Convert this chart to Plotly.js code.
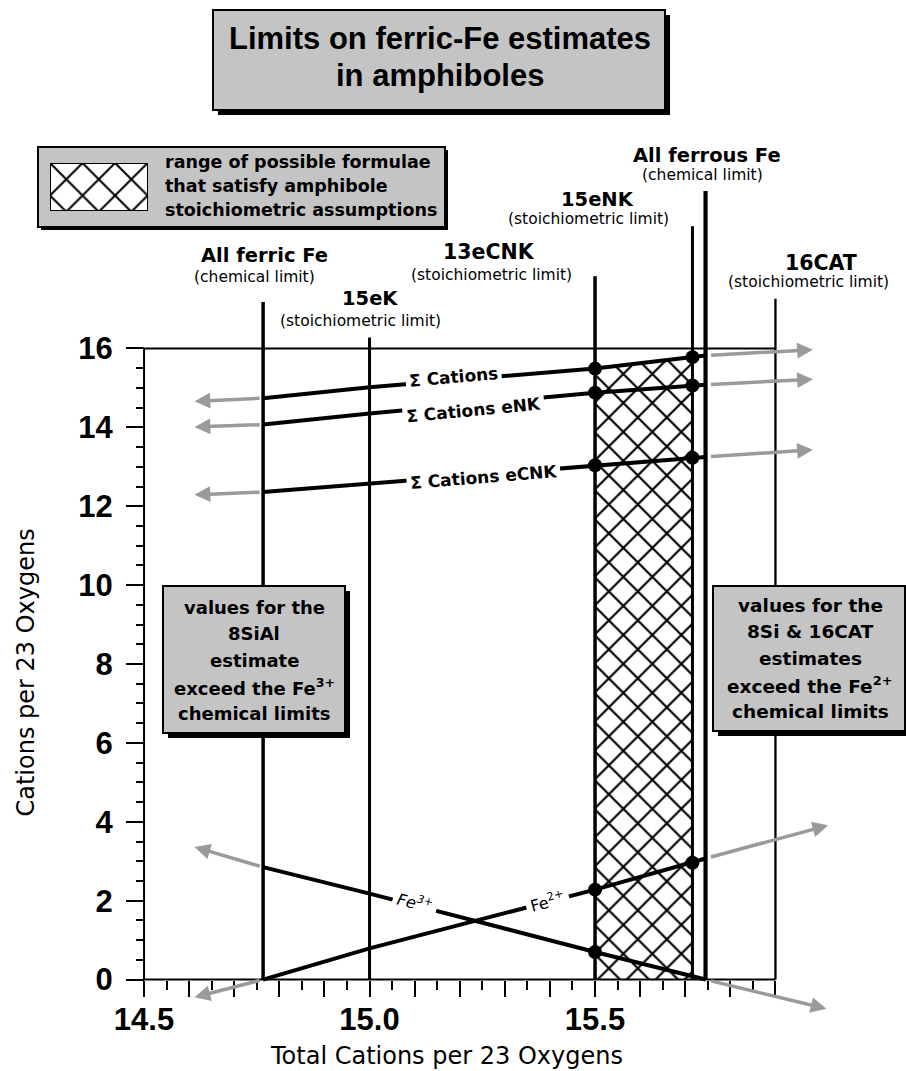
<!DOCTYPE html>
<html><head><meta charset="utf-8">
<script src="https://cdn.plot.ly/plotly-3.0.1.min.js"></script>
<style>html,body{margin:0;padding:0;background:#fff}</style>
</head><body><div id="chart" style="width:906px;height:1071px"></div>
<script>
// ================= DATA =================
// Vertical limit lines (x = total cations per 23 O)
const limitNames = ['All ferric Fe', '15eK', '13eCNK', '15eNK', 'All ferrous Fe', '16CAT'];
const limitSubs  = ['(chemical limit)', '(stoichiometric limit)', '(stoichiometric limit)',
                    '(stoichiometric limit)', '(chemical limit)', '(stoichiometric limit)'];
const limitX     = [14.764, 15.0, 15.5, 15.716, 15.745, 15.9];
const limitTop   = [17.18, 16.28, 17.83, 19.1, 19.99, 17.26];

// Curves read at the limit lines (ferric, 15eK, 13eCNK, 15eNK, ferrous)
const curveX         = [14.764, 15.0, 15.5, 15.716, 15.745];
const sumCations     = [14.74, 15.02, 15.49, 15.78, 15.82];
const sumCationsENK  = [14.07, 14.35, 14.88, 15.06, 15.08];
const sumCationsECNK = [12.36, 12.57, 13.04, 13.23, 13.25];
const fe2            = [0.00, 0.79, 2.28, 2.96, 3.07];
const fe3            = [2.85, 2.18, 0.70, 0.08, 0.00];
const curveLabels    = ['&#931; Cations', '&#931; Cations eNK', '&#931; Cations eCNK', 'Fe<sup>2+</sup>', 'Fe<sup>3+</sup>'];
const dotIndex       = [[2, 3], [2, 3], [2, 3], [2, 3], [2]];

// Extrapolation arrows beyond the chemical limits (arrow heads)
const leftHeadX  = [14.612, 14.612, 14.612, 14.612, 14.612];
const leftHeadY  = [14.66, 14.01, 12.29, -0.45, 3.36];
const rightHeadX = [15.983, 15.983, 15.983, 16.017, 16.013];
const rightHeadY = [15.97, 15.22, 13.43, 3.91, -0.74];

// Axes
const xFrame = [14.5, 15.9];
const yFrame = [0, 16];
const xTickVals = [14.5, 14.6, 14.7, 14.8, 14.9, 15.0, 15.1, 15.2, 15.3, 15.4, 15.5, 15.6, 15.7, 15.8, 15.9];
const xTickText = ['14.5', '', '', '', '', '15.0', '', '', '', '', '15.5', '', '', '', ''];
const xMinorVals = [14.55, 14.65, 14.75, 14.85, 14.95, 15.05, 15.15, 15.25, 15.35, 15.45, 15.55, 15.65, 15.75, 15.85];
const yTickVals = [0, 2, 4, 6, 8, 10, 12, 14, 16];
const yTickText = ['0', '2', '4', '6', '8', '10', '12', '14', '16'];
const yMinorVals = [0.5, 1, 1.5, 2.5, 3, 3.5, 4.5, 5, 5.5, 6.5, 7, 7.5, 8.5, 9, 9.5, 10.5, 11, 11.5,
                    12.5, 13, 13.5, 14.5, 15, 15.5];
const xTitle = 'Total Cations per 23 Oxygens';
const yTitle = 'Cations per 23 Oxygens';

// Text
const titleLines  = ['Limits on ferric-Fe estimates', 'in amphiboles'];
const legendLines = ['range of possible formulae', 'that satisfy amphibole', 'stoichiometric assumptions'];
const leftBoxLines  = ['values for the', '8SiAl', 'estimate', 'exceed the Fe<sup>3+</sup>', 'chemical limits'];
const rightBoxLines = ['values for the', '8Si &amp; 16CAT', 'estimates', 'exceed the Fe<sup>2+</sup>', 'chemical limits'];

// ================= LAYOUT / STYLE =================
const W = 906, H = 1071;
const fx = px => px / W;
const fy = py => 1 - py / H;
const xRange = [14.47, 16.05];
const yRange = [-1, 20.5];
const xDomain = [fx(130.5), fx(843.1)];
const yDomain = [fy(1019), fy(171)];
const xAxisPos = yDomain[0] + (yFrame[0] - yRange[0]) / (yRange[1] - yRange[0]) * (yDomain[1] - yDomain[0]);
const yAxisPos = xDomain[0] + (xFrame[0] - xRange[0]) / (xRange[1] - xRange[0]) * (xDomain[1] - xDomain[0]);

const SANS = 'DejaVu Sans, Verdana, sans-serif';
const ARIAL = 'Liberation Sans, Arial, Helvetica, sans-serif';
const BOXGRAY = '#c4c4c4';
const ARROWGRAY = '#9a9a9a';
const limitWidths = [3.5, 3, 3.5, 3, 4.2, 2.3];
const limitLabelPx = [[264, 255], [370, 298], [489, 252], [597, 199], [707, 155], [821, 262.5]];
const limitSubPx   = [[254, 277.5], [360, 321], [491, 275], [588, 219], [702, 175], [808, 282]];
const limitLabelSize = [19.5, 19.5, 20.5, 19.5, 19.5, 20.5];
const curveLabelX = [15.187, 15.231, 15.253, 15.395, 15.1];
const curveLabelY = [15.28, 14.45, 12.74, 1.98, 1.95];
const curveLabelAngle = [-5, -5.5, -4.6, -15, 14];

const traces = [];
// Hatched region: 13eCNK .. 15eNK, below sum of cations
traces.push({
  type: 'scatter', mode: 'lines',
  x: [curveX[2], curveX[2], curveX[3], curveX[3]],
  y: [yFrame[0], sumCations[2], sumCations[3], yFrame[0]],
  fill: 'toself', fillcolor: 'white',
  fillpattern: {shape: 'x', size: 20.5, solidity: 0.2, fgcolor: 'black', bgcolor: 'white'},
  line: {width: 0}, hoverinfo: 'skip', showlegend: false
});
// Vertical limit lines
limitX.forEach((x, i) => traces.push({
  type: 'scatter', mode: 'lines', x: [x, x], y: [yFrame[0], limitTop[i]],
  line: {color: 'black', width: limitWidths[i]}, hoverinfo: 'skip', showlegend: false, name: limitNames[i]
}));
// Curves
const curves = [sumCations, sumCationsENK, sumCationsECNK, fe2, fe3];
curves.forEach((c, i) => traces.push({
  type: 'scatter', mode: 'lines', x: curveX, y: c,
  line: {color: 'black', width: 4}, hoverinfo: 'skip', showlegend: false
}));
// Dots
curves.forEach((c, i) => traces.push({
  type: 'scatter', mode: 'markers',
  x: dotIndex[i].map(k => curveX[k]), y: dotIndex[i].map(k => c[k]),
  marker: {color: 'black', size: 14}, hoverinfo: 'skip', showlegend: false
}));
// Legend swatch (own unit axes)
traces.push({
  type: 'scatter', mode: 'lines', xaxis: 'x2', yaxis: 'y2',
  x: [0, 0, 1, 1, 0], y: [0, 1, 1, 0, 0], fill: 'toself', fillcolor: 'white',
  fillpattern: {shape: 'x', size: 23, solidity: 0.17, fgcolor: 'black', bgcolor: 'white'},
  line: {color: 'black', width: 2}, hoverinfo: 'skip', showlegend: false
});

const shapes = [];
// Plot frame (right side is the 16CAT line)
shapes.push({type: 'line', xref: 'x', yref: 'y', x0: xFrame[0], x1: xFrame[1], y0: yFrame[0], y1: yFrame[0], line: {color: 'black', width: 2}});
shapes.push({type: 'line', xref: 'x', yref: 'y', x0: xFrame[0], x1: xFrame[1], y0: yFrame[1], y1: yFrame[1], line: {color: 'black', width: 2}});
shapes.push({type: 'line', xref: 'x', yref: 'y', x0: xFrame[0], x1: xFrame[0], y0: yFrame[0], y1: yFrame[1], line: {color: 'black', width: 2}});

function box(x0, y0, x1, y1, sh, layer) {
  shapes.push({type: 'rect', xref: 'paper', yref: 'paper', x0: fx(x0 + sh), x1: fx(x1 + sh), y0: fy(y1 + sh), y1: fy(y0 + sh),
    fillcolor: 'black', line: {width: 0}, layer: layer});
  shapes.push({type: 'rect', xref: 'paper', yref: 'paper', x0: fx(x0), x1: fx(x1), y0: fy(y1), y1: fy(y0),
    fillcolor: BOXGRAY, line: {color: 'black', width: 2}, layer: layer});
}
box(213, 10, 665, 110, 5, 'below');
box(38, 147, 445, 227, 3, 'below');
box(163, 586, 345, 733, 5, 'above');
box(713, 586, 905, 731, 5, 'above');

const ann = [];
function txt(text, px, py, size, opts) {
  ann.push(Object.assign({
    xref: 'paper', yref: 'paper', x: fx(px), y: fy(py), text: text, showarrow: false,
    xanchor: 'center', yanchor: 'middle',
    font: {family: SANS, size: size, color: 'black'}
  }, opts || {}));
}
// Title
titleLines.forEach((t, i) => txt(t, 440, 39 + i * 37, 31, {font: {family: ARIAL, size: 31, weight: 'bold', color: 'black'}}));
// Legend text
legendLines.forEach((t, i) => txt(t, 163, 161.5 + i * 24.2, 17.5, {xanchor: 'left', font: {family: SANS, size: 17.5, weight: 'bold', color: 'black'}}));
// Box texts
leftBoxLines.forEach((t, i) => txt(t, 254, 607.5 + i * 26.4, 18, {font: {family: SANS, size: 18, weight: 'bold', color: 'black'}}));
rightBoxLines.forEach((t, i) => txt(t, 810, 605 + i * 26.7, 18.5, {font: {family: SANS, size: 18.5, weight: 'bold', color: 'black'}}));
// Limit labels
limitNames.forEach((n, i) => {
  txt(n, limitLabelPx[i][0], limitLabelPx[i][1], limitLabelSize[i], {font: {family: SANS, size: limitLabelSize[i], weight: 'bold', color: 'black'}});
  txt(limitSubs[i], limitSubPx[i][0], limitSubPx[i][1], 15.5);
});
// Axis titles
txt(xTitle, 446, 1056, 24);
txt(yTitle, 25, 672.5, 24, {textangle: -90});

// Curve labels (white background breaks the line)
curves.forEach((c, i) => {
  const isFe = i >= 3;
  ann.push({
    xref: 'x', yref: 'y', x: curveLabelX[i], y: curveLabelY[i], text: curveLabels[i], showarrow: false,
    textangle: curveLabelAngle[i], bgcolor: 'white', borderpad: isFe ? 4 : 3,
    font: {family: SANS, size: isFe ? 16 : 17, weight: isFe ? 'normal' : 'bold', style: i === 4 ? 'italic' : 'normal', color: 'black'}
  });
});
// Extrapolation arrows
curves.forEach((c, i) => {
  ann.push({xref: 'x', yref: 'y', axref: 'x', ayref: 'y', x: leftHeadX[i], y: leftHeadY[i],
    ax: curveX[0], ay: c[0], text: '', showarrow: true, arrowhead: 2, arrowsize: 0.9,
    arrowwidth: 3.5, arrowcolor: ARROWGRAY, standoff: 0, startstandoff: 2});
  ann.push({xref: 'x', yref: 'y', axref: 'x', ayref: 'y', x: rightHeadX[i], y: rightHeadY[i],
    ax: curveX[curveX.length - 1], ay: c[c.length - 1], text: '', showarrow: true, arrowhead: 2, arrowsize: 0.9,
    arrowwidth: 3.5, arrowcolor: ARROWGRAY, standoff: 0, startstandoff: 4});
});

const tickFont = {family: ARIAL, size: 31, weight: 'bold', color: 'black'};
const layout = {
  width: W, height: H, margin: {l: 0, r: 0, t: 0, b: 0},
  paper_bgcolor: 'white', plot_bgcolor: 'rgba(0,0,0,0)', showlegend: false,
  xaxis: {
    domain: xDomain, range: xRange, anchor: 'free', position: xAxisPos,
    showline: false, showgrid: false, zeroline: false,
    tickmode: 'array', tickvals: xTickVals, ticktext: xTickText,
    ticks: 'outside', ticklen: 16, tickwidth: 2, tickcolor: 'black', tickfont: tickFont,
    ticklabelstandoff: -4,
    minor: {tickmode: 'array', tickvals: xMinorVals, ticks: 'outside', ticklen: 9, tickwidth: 2, tickcolor: 'black', showgrid: false},
    fixedrange: true
  },
  yaxis: {
    domain: yDomain, range: yRange, anchor: 'free', position: yAxisPos,
    showline: false, showgrid: false, zeroline: false,
    tickmode: 'array', tickvals: yTickVals, ticktext: yTickText,
    ticks: 'outside', ticklen: 18, tickwidth: 2, tickcolor: 'black', tickfont: tickFont,
    ticklabelstandoff: 7,
    minor: {tickmode: 'array', tickvals: yMinorVals, ticks: 'outside', ticklen: 8, tickwidth: 2, tickcolor: 'black', showgrid: false},
    fixedrange: true
  },
  xaxis2: {domain: [fx(50), fx(148)], range: [0, 1], anchor: 'y2', visible: false, fixedrange: true},
  yaxis2: {domain: [fy(211), fy(163)], range: [0, 1], anchor: 'x2', visible: false, fixedrange: true},
  shapes: shapes,
  annotations: ann
};
Plotly.newPlot('chart', traces, layout, {staticPlot: true, displayModeBar: false});
</script>
</body></html>
